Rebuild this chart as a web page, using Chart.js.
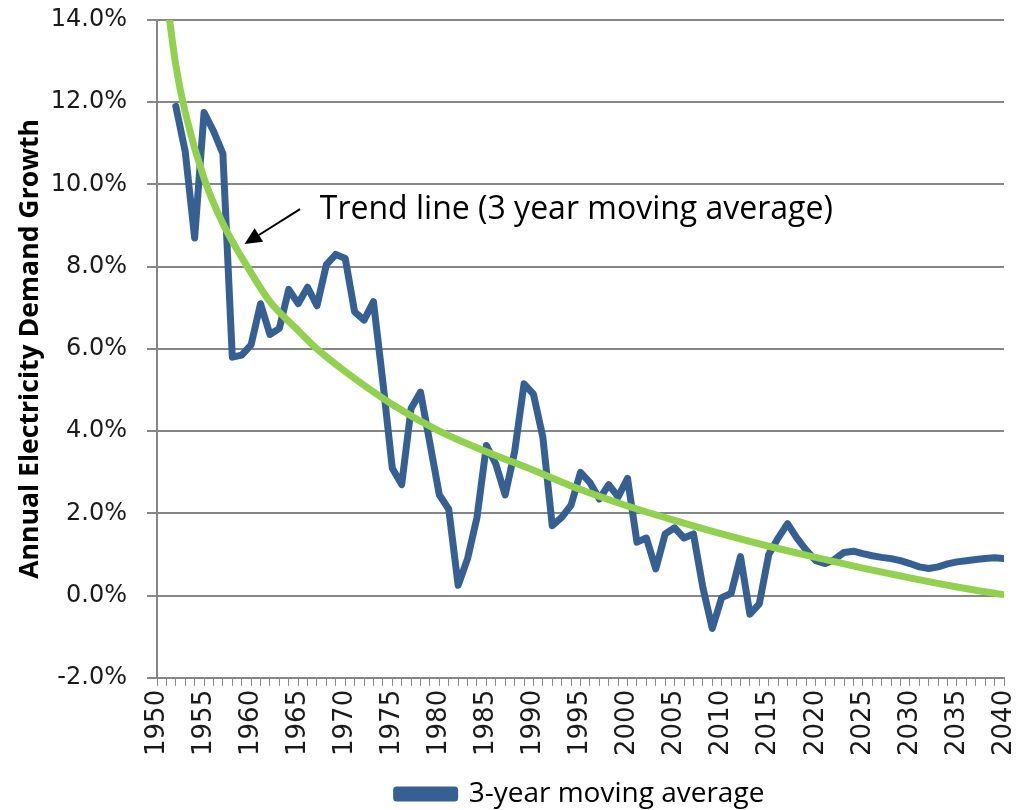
<!DOCTYPE html>
<html>
<head>
<meta charset="utf-8">
<script src="https://cdn.jsdelivr.net/npm/chart.js@4.4.0/dist/chart.umd.min.js"></script>
<style>
  body { margin: 0; background: #fff; }
  #wrap { width: 1025px; height: 810px; }
</style>
</head>
<body>
<div id="wrap"><canvas id="chart"></canvas></div>
<script>
// 3-year moving average
const avgYears = [
  1952, 1953, 1954, 1955, 1956, 1957, 1958, 1959, 1960, 1961,
  1962, 1963, 1964, 1965, 1966, 1967, 1968, 1969, 1970, 1971,
  1972, 1973, 1974, 1975, 1976, 1977, 1978, 1979, 1980, 1981,
  1982, 1983, 1984, 1985, 1986, 1987, 1988, 1989, 1990, 1991,
  1992, 1993, 1994, 1995, 1996, 1997, 1998, 1999, 2000, 2001,
  2002, 2003, 2004, 2005, 2006, 2007, 2008, 2009, 2010, 2011,
  2012, 2013, 2014, 2015, 2016, 2017, 2018, 2019, 2020, 2021,
  2022, 2023, 2024, 2025, 2026, 2027, 2028, 2029, 2030, 2031,
  2032, 2033, 2034, 2035, 2036, 2037, 2038, 2039, 2040
];
const avgValues = [
  11.9, 10.8, 8.7, 11.75, 11.3, 10.75, 5.8, 5.85, 6.1, 7.1,
  6.35, 6.5, 7.45, 7.1, 7.5, 7.05, 8.05, 8.3, 8.2, 6.9,
  6.7, 7.15, 5.2, 3.1, 2.7, 4.55, 4.95, 3.7, 2.45, 2.1,
  0.25, 0.9, 1.9, 3.65, 3.2, 2.45, 3.5, 5.15, 4.9, 3.85,
  1.7, 1.9, 2.2, 3.0, 2.75, 2.35, 2.7, 2.4, 2.85, 1.3,
  1.4, 0.65, 1.5, 1.65, 1.4, 1.5, 0.2, -0.8, -0.05, 0.05,
  0.95, -0.45, -0.2, 1.0, 1.4, 1.75, 1.4, 1.1, 0.85, 0.78,
  0.88, 1.05, 1.08, 1.02, 0.97, 0.93, 0.9, 0.85, 0.78, 0.7,
  0.66, 0.7, 0.77, 0.82, 0.85, 0.88, 0.9, 0.92, 0.9
];

// trend line, read at a few years along the curve
const trendYears = [1951, 1952, 1953, 1955, 1957, 1960, 1962, 1965, 1967, 1970,
  1975, 1980, 1985, 1990, 1995, 2000, 2005, 2010, 2015, 2020, 2025, 2030, 2035, 2040];
const trendValues = [14.6, 12.9, 11.75, 10.15, 9.05, 7.85, 7.15, 6.45, 6.0, 5.45,
  4.65, 4.0, 3.5, 3.05, 2.58, 2.18, 1.83, 1.5, 1.2, 0.93, 0.67, 0.43, 0.21, 0.02];

const yTicks = [-2, 0, 2, 4, 6, 8, 10, 12, 14];

// callout text, anchored in data units
const noteText = 'Trend line (3 year moving average)';
const noteTip = { x: 1959.3, y: 8.55 };
const noteTail = { x: 1965.2, y: 9.4 };
const noteLabel = { x: 1967.3, y: 9.39 };

const toPoints = (xs, ys) => xs.map((x, i) => ({ x, y: ys[i] }));

Chart.defaults.font.family = 'DejaVu Sans';
Chart.defaults.color = '#1a1a1a';

// draws the arrow and the text of the callout
const calloutPlugin = {
  id: 'callout',
  afterDatasetsDraw(chart) {
    const { ctx, scales: { x, y } } = chart;
    const tx = x.getPixelForValue(noteTip.x), ty = y.getPixelForValue(noteTip.y);
    const sx = x.getPixelForValue(noteTail.x), sy = y.getPixelForValue(noteTail.y);
    const ang = Math.atan2(ty - sy, tx - sx);
    const head = 17, half = 8;
    const bx = tx - Math.cos(ang) * head, by = ty - Math.sin(ang) * head;
    ctx.save();
    ctx.strokeStyle = '#000';
    ctx.fillStyle = '#000';
    ctx.lineWidth = 2;
    ctx.beginPath();
    ctx.moveTo(sx, sy);
    ctx.lineTo(bx, by);
    ctx.stroke();
    ctx.beginPath();
    ctx.moveTo(tx, ty);
    ctx.lineTo(bx + Math.sin(ang) * half, by - Math.cos(ang) * half);
    ctx.lineTo(bx - Math.sin(ang) * half, by + Math.cos(ang) * half);
    ctx.closePath();
    ctx.fill();
    ctx.font = '32px "Open Sans"';
    ctx.textBaseline = 'middle';
    ctx.textAlign = 'left';
    ctx.fillText(noteText, x.getPixelForValue(noteLabel.x), y.getPixelForValue(noteLabel.y));
    ctx.restore();
  }
};

new Chart(document.getElementById('chart'), {
  type: 'line',
  data: {
    datasets: [
      {
        label: 'Trend line',
        data: toPoints(trendYears, trendValues),
        borderColor: '#92D050',
        borderWidth: 7,
        pointRadius: 0,
        cubicInterpolationMode: 'monotone',
        order: 0
      },
      {
        label: '3-year moving average',
        data: toPoints(avgYears, avgValues),
        borderColor: '#376092',
        backgroundColor: '#376092',
        borderWidth: 7,
        pointRadius: 0,
        tension: 0,
        borderJoinStyle: 'round',
        borderCapStyle: 'round',
        order: 1
      }
    ]
  },
  options: {
    responsive: true,
    maintainAspectRatio: false,
    animation: false,
    layout: { padding: { left: 0, right: 21, top: 20, bottom: -8 } },
    scales: {
      x: {
        type: 'linear',
        min: 1950,
        max: 2040,
        afterFit: s => { s.paddingLeft = 0; s.paddingRight = 0; s.height += 18; },
        grid: {
          drawOnChartArea: false,
          drawTicks: true,
          tickLength: 8,
          color: '#868686',
          lineWidth: 1
        },
        border: { color: '#868686', width: 2 },
        ticks: {
          stepSize: 1,
          autoSkip: false,
          maxTicksLimit: 200,
          minRotation: 90,
          maxRotation: 90,
          padding: 4,
          font: { size: 26 },
          callback: v => (v % 5 === 0 ? String(v) : '')
        }
      },
      y: {
        min: -2,
        max: 14,
        afterBuildTicks: axis => { axis.ticks = yTicks.map(v => ({ value: v })); },
        afterFit: s => { s.width = 157; s.paddingTop = 0; s.paddingBottom = 0; },
        grid: {
          color: '#868686',
          lineWidth: 2,
          tickLength: 10
        },
        border: { color: '#868686', width: 2 },
        ticks: {
          padding: 20,
          font: { size: 24 },
          callback: v => v.toFixed(1) + '%'
        },
        title: {
          display: true,
          text: 'Annual Electricity Demand Growth',
          font: { family: 'Open Sans', size: 26.6, weight: 'bold' },
          color: '#000',
          padding: { top: 14, bottom: 0 }
        }
      }
    },
    plugins: {
      legend: {
        position: 'bottom',
        fullSize: false,
        labels: {
          filter: item => item.text === '3-year moving average',
          boxWidth: 58,
          boxHeight: 8,
          color: '#000',
          font: { family: 'Open Sans', size: 28 },
          padding: 2
        }
      },
      tooltip: { enabled: false }
    }
  },
  plugins: [calloutPlugin]
});
</script>
</body>
</html>
